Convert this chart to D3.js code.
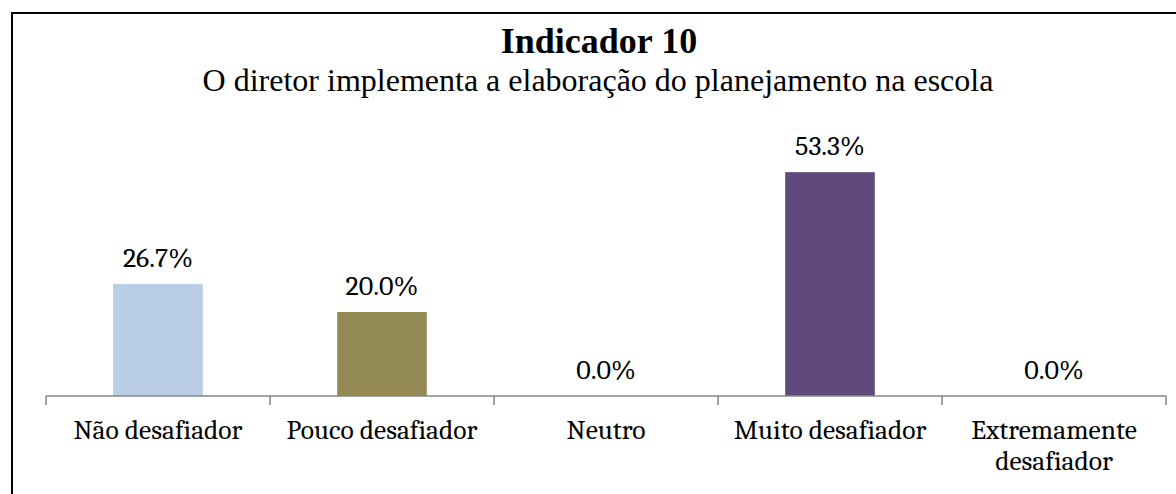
<!DOCTYPE html>
<html>
<head>
<meta charset="utf-8">
<script src="https://cdn.jsdelivr.net/npm/d3@7"></script>
<style>
  body { margin: 0; background: #fff; }
  svg { display: block; }
</style>
</head>
<body>
<script>
var w = 1176;
var h = 494;

var categories = ['Não desafiador', 'Pouco desafiador', 'Neutro', 'Muito desafiador', 'Extremamente desafiador'];
var values = [26.7, 20.0, 0.0, 53.3, 0.0];
var colors = ['#b9cde5', '#948a54', '#8eb4e3', '#604a7b', '#c0504d'];

var title = 'Indicador 10';
var subtitle = 'O diretor implementa a elaboração do planejamento na escola';

var labelFont = 'Cambria, "Liberation Serif", serif';
var titleFont = '"Liberation Serif", "Times New Roman", serif';

var svg = d3.select('body').append('svg')
  .attr('width', w)
  .attr('height', h);

// chart border (runs off the right and bottom edge)
svg.append('rect')
  .attr('x', 12)
  .attr('y', 13)
  .attr('width', w)
  .attr('height', h)
  .attr('fill', 'none')
  .attr('stroke', '#000')
  .attr('stroke-width', 2);

svg.append('text')
  .attr('x', 599)
  .attr('y', 53)
  .attr('text-anchor', 'middle')
  .style('font-family', titleFont)
  .style('font-weight', 'bold')
  .style('font-size', '36px')
  .text(title);

svg.append('text')
  .attr('x', 598)
  .attr('y', 91)
  .attr('text-anchor', 'middle')
  .style('font-family', titleFont)
  .style('font-size', '32px')
  .text(subtitle);

var scaleX = d3.scaleBand()
  .domain(categories)
  .range([46, 1166])
  .paddingInner(0.6)
  .paddingOuter(0.3);

var scaleY = d3.scaleLinear()
  .domain([0, 60])
  .range([396, 144]);

svg.selectAll('rect.bar')
  .data(values)
  .enter().append('rect')
  .attr('class', 'bar')
  .attr('x', (d, i) => scaleX(categories[i]))
  .attr('y', (d) => scaleY(d))
  .attr('width', scaleX.bandwidth())
  .attr('height', (d) => scaleY(0) - scaleY(d))
  .attr('fill', (d, i) => colors[i]);

svg.selectAll('text.val')
  .data(values)
  .enter().append('text')
  .attr('class', 'val')
  .attr('x', (d, i) => scaleX(categories[i]) + scaleX.bandwidth() / 2)
  .attr('y', (d) => scaleY(d) - 17)
  .attr('text-anchor', 'middle')
  .style('font-family', labelFont)
  .style('font-size', '28px')
  .text((d) => d.toFixed(1) + '%');

// axis line with ticks between categories
var axis = svg.append('g');
var step = scaleX.step();
var edges = d3.range(categories.length + 1).map((i) => 46 + i * step);

axis.append('line')
  .attr('x1', 46)
  .attr('x2', 1166)
  .attr('y1', scaleY(0))
  .attr('y2', scaleY(0))
  .attr('stroke', '#868686')
  .attr('stroke-width', 1.5);

axis.selectAll('line.tick')
  .data(edges)
  .enter().append('line')
  .attr('class', 'tick')
  .attr('x1', (d) => d)
  .attr('x2', (d) => d)
  .attr('y1', scaleY(0))
  .attr('y2', scaleY(0) + 9)
  .attr('stroke', '#868686')
  .attr('stroke-width', 1.5);

var labels = axis.selectAll('text.cat')
  .data(categories)
  .enter().append('text')
  .attr('class', 'cat')
  .attr('text-anchor', 'middle')
  .style('font-family', labelFont)
  .style('font-size', '27.5px');

labels.each(function(d) {
  var t = d3.select(this);
  var cx = scaleX(d) + scaleX.bandwidth() / 2;
  var lines = d === 'Extremamente desafiador' ? ['Extremamente', 'desafiador'] : [d];
  lines.forEach((s, k) => {
    t.append('tspan')
      .attr('x', cx)
      .attr('y', 439 + k * 31)
      .text(s);
  });
});
</script>
</body>
</html>
